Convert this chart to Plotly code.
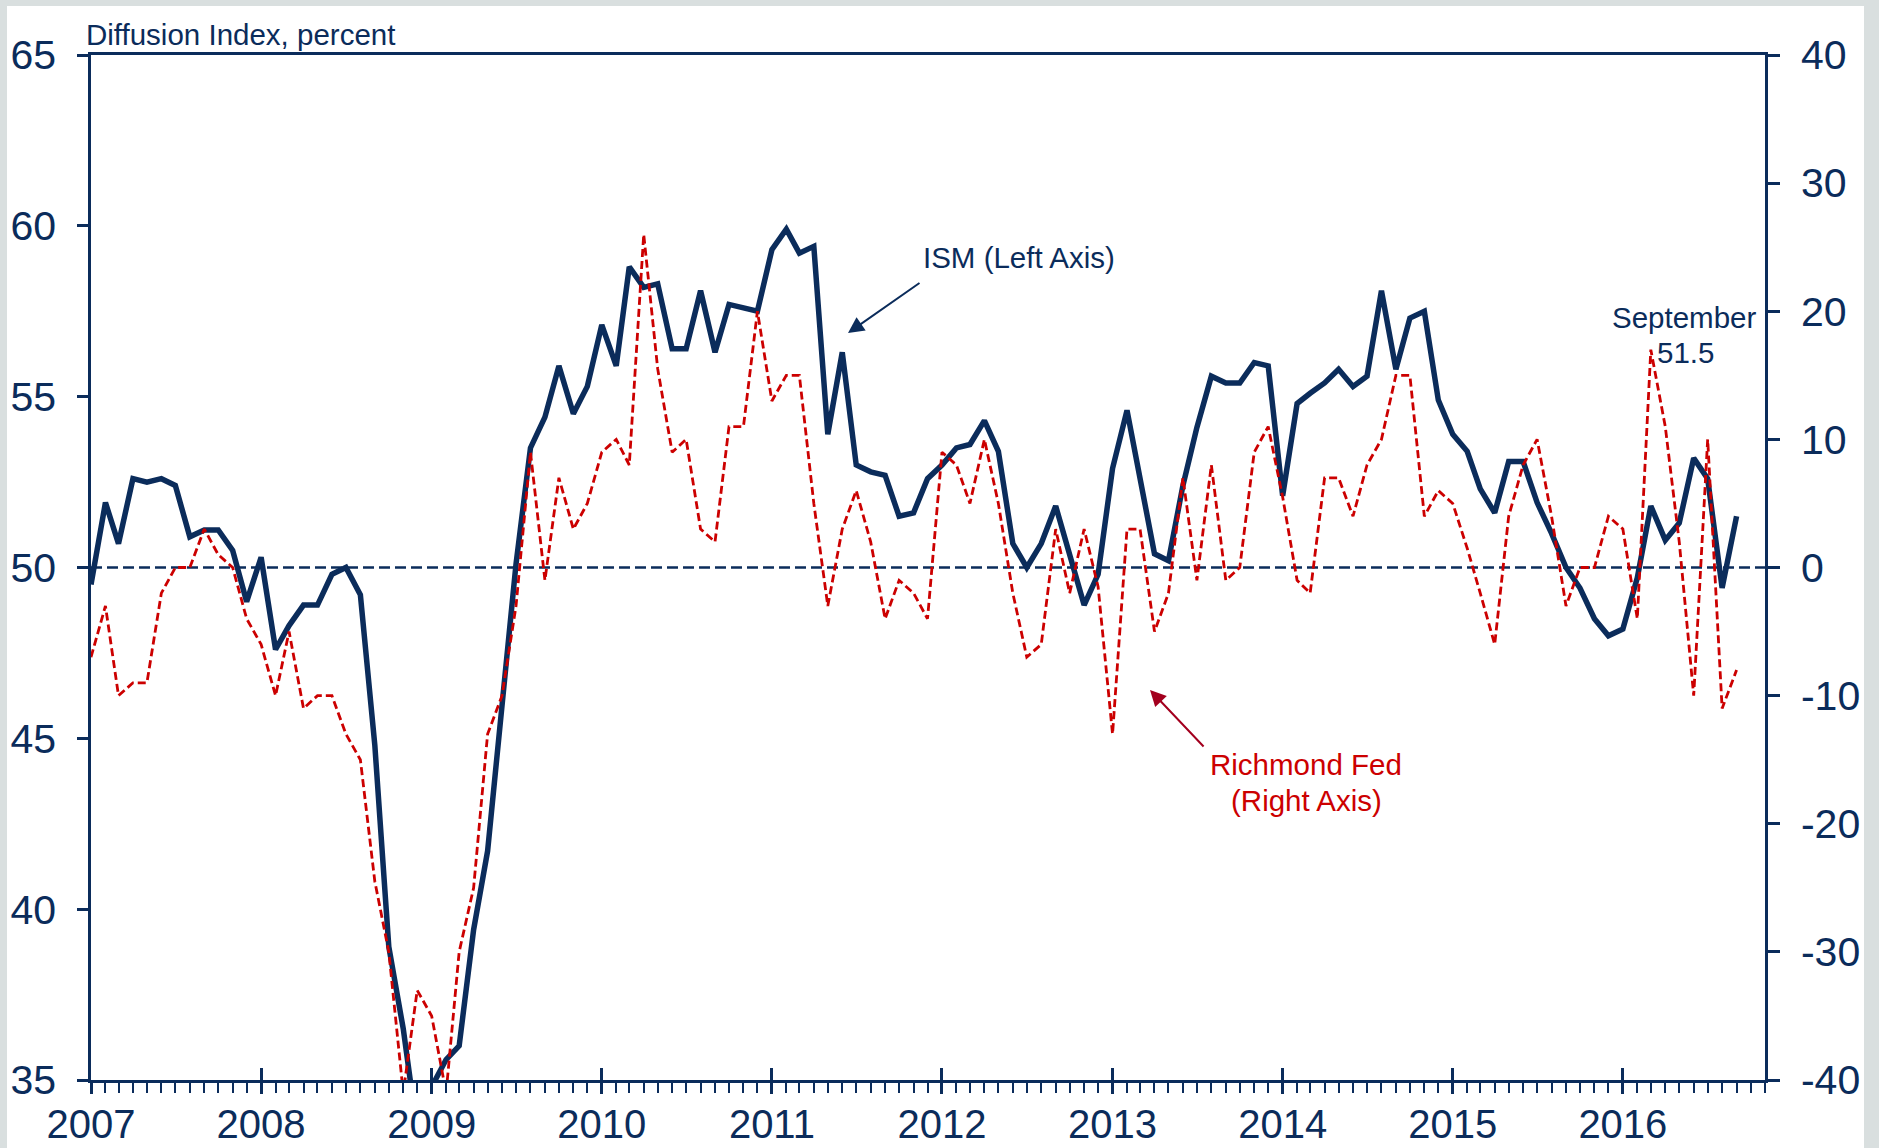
import pandas as pd
import plotly.graph_objects as go

# ---------------- data ----------------
months = pd.date_range("2007-01-01", periods=117, freq="MS")

ism = [
    49.5, 51.9, 50.7, 52.6, 52.5, 52.6, 52.4, 50.9, 51.1, 51.1, 50.5, 49.0,   # 2007
    50.3, 47.6, 48.3, 48.9, 48.9, 49.8, 50.0, 49.2, 44.8, 38.9, 36.5, 33.5,   # 2008
    34.8, 35.6, 36.0, 39.4, 41.7, 46.1, 50.1, 53.5, 54.4, 55.9, 54.5, 55.3,   # 2009
    57.1, 55.9, 58.8, 58.2, 58.3, 56.4, 56.4, 58.1, 56.3, 57.7, 57.6, 57.5,   # 2010
    59.3, 59.9, 59.2, 59.4, 53.9, 56.3, 53.0, 52.8, 52.7, 51.5, 51.6, 52.6,   # 2011
    53.0, 53.5, 53.6, 54.3, 53.4, 50.7, 50.0, 50.7, 51.8, 50.4, 48.9, 49.8,   # 2012
    52.9, 54.6, 52.5, 50.4, 50.2, 52.4, 54.1, 55.6, 55.4, 55.4, 56.0, 55.9,   # 2013
    52.1, 54.8, 55.1, 55.4, 55.8, 55.3, 55.6, 58.1, 55.8, 57.3, 57.5, 54.9,   # 2014
    53.9, 53.4, 52.3, 51.6, 53.1, 53.1, 51.9, 51.0, 50.0, 49.4, 48.5, 48.0,   # 2015
    48.2, 49.7, 51.8, 50.8, 51.3, 53.2, 52.6, 49.4, 51.5,                     # 2016
]

richmond = [
    -7, -3, -10, -9, -9, -2, 0, 0, 3, 1, 0, -4,                 # 2007
    -6, -10, -5, -11, -10, -10, -13, -15, -24.5, -30, -41, -33,  # 2008
    -35, -41, -30, -25, -13, -10, -3, 9, -1, 7, 3, 5,            # 2009
    9, 10, 8, 26, 15.5, 9, 10, 3, 2, 11, 11, 20,                 # 2010
    13, 15, 15, 5, -3, 3, 6, 2, -4, -1, -2, -4,                  # 2011
    9, 8, 5, 10, 5, -2, -7, -6, 3, -2, 3, -1.5,                  # 2012
    -13, 3, 3, -5, -2, 7, -1, 8, -1, 0, 9, 11,                   # 2013
    5.5, -1, -2, 7, 7, 4, 8, 10, 15, 15, 4, 6,                   # 2014
    5, 1.5, -2, -6, 4, 8, 10, 4, -3, 0, 0, 4,                    # 2015
    3, -4, 17, 11, 2, -10, 10, -11, -8,                          # 2016
]

left_ticks = [35, 40, 45, 50, 55, 60, 65]
right_ticks = [-40, -30, -20, -10, 0, 10, 20, 30, 40]
right_labels = [str(v) for v in right_ticks]
year_ticks = pd.date_range("2007-01-01", "2016-01-01", freq="YS")
year_labels = [str(d.year) for d in year_ticks]

# ---------------- style ----------------
NAVY = "#0b2c5b"
RED = "#cc0000"
DARKRED = "#a3001e"
BG = "#d9dfdf"
FONT = "Liberation Sans, Arial, sans-serif"
TICKSIZE = 41

W, H = 1879, 1148
ML, MR, MT, MB = 91, 114, 55, 68
PW, PH = W - ML - MR, H - MT - MB


def px_x(x):
    return (x - ML) / PW


def px_y(y):
    return (H - MB - y) / PH


fig = go.Figure()

fig.add_trace(go.Scatter(
    x=months, y=richmond, yaxis="y2", mode="lines", name="Richmond Fed",
    line=dict(color=RED, width=2.8, dash="8px,4px"), showlegend=False,
))
fig.add_trace(go.Scatter(
    x=months, y=ism, yaxis="y", mode="lines", name="ISM",
    line=dict(color=NAVY, width=5.5), showlegend=False,
))
# carrier for the inner half of the yearly ticks
fig.add_trace(go.Scatter(x=[months[0]], y=[None], xaxis="x2", yaxis="y",
                         mode="lines", showlegend=False, hoverinfo="skip"))

x_range = ["2007-01-01", "2016-11-01"]

fig.update_layout(
    template="none",
    width=W, height=H,
    margin=dict(l=ML, r=MR, t=MT, b=MB, pad=0),
    paper_bgcolor=BG, plot_bgcolor="white",
    font=dict(family=FONT, color=NAVY),
    showlegend=False,
    xaxis=dict(
        range=x_range, tickmode="array", tickvals=list(year_ticks), ticktext=year_labels,
        ticks="outside", ticklen=11, tickwidth=2.5, tickcolor=NAVY,
        showline=True, linecolor=NAVY, linewidth=2.5, mirror=True,
        showgrid=False, zeroline=False, automargin=False,
        tickfont=dict(size=40, color=NAVY, family=FONT), ticklabelstandoff=-4,
        minor=dict(dtick="M1", tick0="2007-01-01", ticks="outside", ticklen=10,
                   tickwidth=2, tickcolor=NAVY, showgrid=False),
    ),
    xaxis2=dict(
        range=x_range, overlaying="x", anchor="y", side="bottom",
        tickmode="array", tickvals=list(year_ticks), showticklabels=False,
        ticks="inside", ticklen=12, tickwidth=2.5, tickcolor=NAVY,
        showline=False, showgrid=False, zeroline=False, automargin=False,
    ),
    yaxis=dict(
        range=[35, 65], tickmode="array", tickvals=left_ticks,
        ticks="outside", ticklen=11, tickwidth=2.5, tickcolor=NAVY,
        showline=True, linecolor=NAVY, linewidth=2.5,
        showgrid=False, zeroline=False, automargin=False,
        tickfont=dict(size=TICKSIZE, color=NAVY, family=FONT), ticklabelstandoff=13,
    ),
    yaxis2=dict(
        range=[-40, 40], tickmode="array", tickvals=right_ticks, ticktext=right_labels,
        overlaying="y", side="right", anchor="x",
        ticks="outside", ticklen=12, tickwidth=2.5, tickcolor=NAVY,
        showline=True, linecolor=NAVY, linewidth=2.5,
        showgrid=False, zeroline=False, automargin=False,
        tickfont=dict(size=TICKSIZE, color=NAVY, family=FONT), ticklabelstandoff=13,
    ),
    shapes=[
        dict(type="rect", xref="paper", yref="paper", layer="below",
             x0=px_x(7), x1=px_x(1864), y0=px_y(1160), y1=px_y(6),
             fillcolor="white", line=dict(width=0)),
        dict(type="line", xref="paper", yref="y", layer="below",
             x0=0, x1=1, y0=50, y1=50,
             line=dict(color=NAVY, width=2.5, dash="11px,5px")),
    ],
)

ann_font = dict(family=FONT, size=29.5, color=NAVY)
red_font = dict(family=FONT, size=29.5, color=RED)
fig.add_annotation(xref="paper", yref="paper", x=px_x(84), y=px_y(35),
                   xanchor="left", yanchor="middle", showarrow=False,
                   text="Diffusion Index, percent", font=dict(family=FONT, size=29.5, color=NAVY))
fig.add_annotation(xref="paper", yref="paper", x=px_x(1019), y=px_y(258),
                   xanchor="center", yanchor="middle", showarrow=False,
                   text="ISM (Left Axis)", font=ann_font)
fig.add_annotation(xref="paper", yref="paper", x=px_x(1684), y=px_y(317),
                   xanchor="center", yanchor="middle", showarrow=False,
                   text="September", font=ann_font)
fig.add_annotation(xref="paper", yref="paper", x=px_x(1685), y=px_y(352),
                   xanchor="center", yanchor="middle", showarrow=False,
                   text="51.5", font=ann_font)
fig.add_annotation(xref="paper", yref="paper", x=px_x(1306), y=px_y(764),
                   xanchor="center", yanchor="middle", showarrow=False,
                   text="Richmond Fed", font=red_font)
fig.add_annotation(xref="paper", yref="paper", x=px_x(1306), y=px_y(800),
                   xanchor="center", yanchor="middle", showarrow=False,
                   text="(Right Axis)", font=red_font)
# arrows
fig.add_annotation(xref="paper", yref="paper", x=px_x(848), y=px_y(333),
                   ax=73, ay=-51, text="", showarrow=True,
                   arrowhead=2, arrowsize=1.6, arrowwidth=2, arrowcolor=NAVY)
fig.add_annotation(xref="paper", yref="paper", x=px_x(1150), y=px_y(690),
                   ax=55, ay=58, text="", showarrow=True,
                   arrowhead=2, arrowsize=1.6, arrowwidth=2, arrowcolor=DARKRED)

fig.write_html(
    "out.html",
    config={"displayModeBar": False},
    post_script="document.body.style.margin='0px';document.body.style.overflow='hidden';",
)
